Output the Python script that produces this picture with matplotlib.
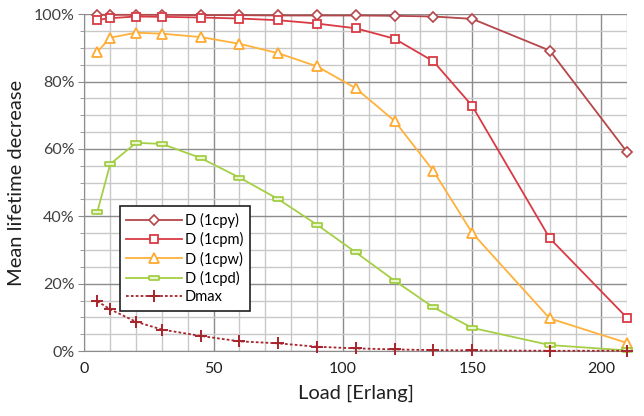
import numpy as np
import matplotlib
matplotlib.use('Agg')
import matplotlib.pyplot as plt
from matplotlib.ticker import MultipleLocator, PercentFormatter

plt.rcParams['font.family'] = ['Lato', 'DejaVu Sans']

load = [5, 10, 20, 30, 45, 60, 75, 90, 105, 120, 135, 150, 180, 210]

d_cpy = [99.8, 99.8, 99.8, 99.8, 99.7, 99.7, 99.6, 99.6, 99.6, 99.5, 99.3, 98.6, 89.2, 59.0]
d_cpm = [98.3, 98.8, 99.3, 99.2, 99.0, 98.7, 98.2, 97.2, 95.8, 92.7, 86.0, 72.8, 33.5, 9.8]
d_cpw = [88.8, 93.0, 94.5, 94.2, 93.2, 91.2, 88.4, 84.5, 78.0, 68.3, 53.5, 35.1, 9.7, 2.4]
d_cpd = [41.3, 55.5, 61.8, 61.5, 57.3, 51.5, 45.1, 37.5, 29.3, 20.9, 13.0, 6.9, 1.8, 0.2]
d_max = [14.8, 12.4, 8.7, 6.4, 4.5, 2.9, 2.3, 1.3, 0.8, 0.5, 0.3, 0.2, 0.1, 0.1]

series_names = ['D (1cpy)', 'D (1cpm)', 'D (1cpw)', 'D (1cpd)', 'Dmax']

# flat rectangle marker like the excel "dash" marker
dash = [(-1, -0.35), (1, -0.35), (1, 0.35), (-1, 0.35), (-1, -0.35)]

fig = plt.figure(figsize=(6.44, 4.16), dpi=100)
ax = fig.add_axes([0.131, 0.156, 0.843, 0.810])

ax.plot(load, d_cpy, color='#B5464A', lw=1.3, marker='D', ms=5.5, mfc='white',
        mec='#B5464A', mew=1.2, label=series_names[0], zorder=5, clip_on=False)
ax.plot(load, d_cpm, color='#D93A44', lw=1.3, marker='s', ms=5.5, mfc='white',
        mec='#D93A44', mew=1.3, label=series_names[1], zorder=5, clip_on=False)
ax.plot(load, d_cpw, color='#FFB13B', lw=1.3, marker='^', ms=7.5, mfc='white',
        mec='#FFAA30', mew=1.3, label=series_names[2], zorder=5, clip_on=False)
ax.plot(load, d_cpd, color='#A5D046', lw=1.3, marker=dash, ms=7.5, mfc='#EAF5CF',
        mec='#9CCB3A', mew=1.2, label=series_names[3], zorder=5, clip_on=False)
ax.plot(load, d_max, color='#A8242C', lw=1.3, ls=(0, (1.5, 1.2)), marker='+', ms=8,
        mew=1.4, mec='#A8242C', label=series_names[4], zorder=5, clip_on=False)

ax.set_xlim(0, 210)
ax.set_ylim(0, 100)
ax.xaxis.set_major_locator(MultipleLocator(50))
ax.xaxis.set_minor_locator(MultipleLocator(10))
ax.yaxis.set_major_locator(MultipleLocator(20))
ax.yaxis.set_minor_locator(MultipleLocator(5))
ax.yaxis.set_major_formatter(PercentFormatter(decimals=0))

ax.grid(which='major', color='#8C8C8C', lw=1.0)
ax.grid(which='minor', color='#C8C8C8', lw=1.0)
ax.set_axisbelow(True)

for s in ['top', 'right']:
    ax.spines[s].set_visible(False)
ax.spines['left'].set_color('#8C8C8C')
ax.spines['bottom'].set_color('#8C8C8C')

ax.tick_params(axis='y', which='both', length=4, color='#8C8C8C',
               labelsize=11.5, labelcolor='#404040', pad=3)
ax.tick_params(axis='y', which='minor', length=3)
ax.tick_params(axis='x', which='both', length=0, labelsize=11.5,
               labelcolor='#202020', pad=8)

ax.set_xlabel('Load [Erlang]', fontsize=14.5, color='#202020', labelpad=6)
ax.set_ylabel('Mean lifetime decrease', fontsize=14.5, color='#202020', labelpad=6)

leg = ax.legend(loc='upper left', bbox_to_anchor=(0.052, 0.452), fontsize=10.5,
                frameon=True, fancybox=False, edgecolor='#202020',
                handlelength=3.8, borderpad=0.45, labelspacing=0.3,
                handletextpad=0.2, framealpha=1)
leg.get_frame().set_linewidth(1.2)

fig.savefig('out.png', dpi=100)
